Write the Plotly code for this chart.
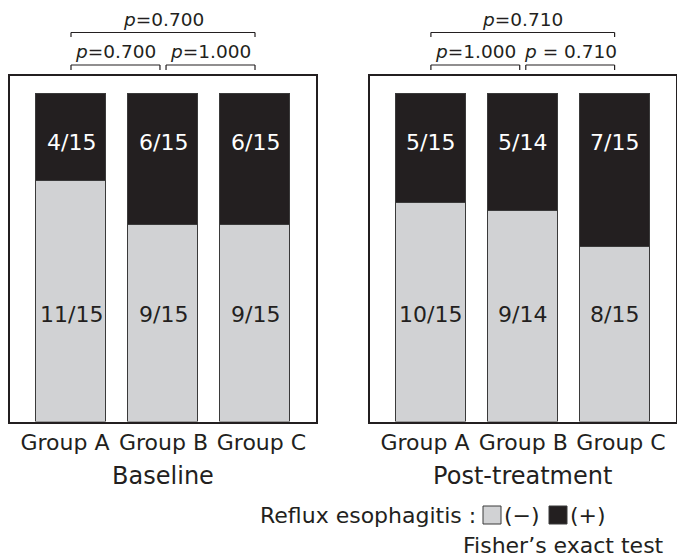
import plotly.graph_objects as go

# ---------------- data ----------------
groups = ["Group A", "Group B", "Group C"]
panel_titles = ["Baseline", "Post-treatment"]
series_names = ["(−)", "(+)"]
legend_title = "Reflux esophagitis :"
test_note = "Fisher’s exact test"

baseline_neg = [11, 9, 9]
baseline_pos = [4, 6, 6]
baseline_n = [15, 15, 15]

post_neg = [10, 9, 8]
post_pos = [5, 5, 7]
post_n = [15, 14, 15]

# p-value labels: [A vs B, B vs C, A vs C]
baseline_p = ["<i>p</i>=0.700", "<i>p</i>=1.000", "<i>p</i>=0.700"]
post_p = ["<i>p</i>=1.000", "<i>p</i> = 0.710", "<i>p</i>=0.710"]

# ---------------- style ----------------
OFF = 0
W, H = 677, 557
FONT = "DejaVu Sans"
INK = "#231f20"
GRAY = "#d1d2d4"
BLACK = "#231f20"
EDGE = "#3a3a3a"

XR = [-0.663, 2.663]
YR = [0, 1.055]
LABEL_SPREAD = [-0.065, 0.005, 0.07]   # slight spread of category labels


def fx(sx):   # screen x px -> paper
    return (sx - OFF) / W


def fy(sy):   # screen y px -> paper
    return 1 - (sy - OFF) / H


def xd(v):
    return (v - XR[0]) / (XR[1] - XR[0])


dom_left = [fx(10), fx(316)]
dom_right = [fx(370), fx(675.5)]
ydom = [fy(421.5), fy(75.5)]

fig = go.Figure()

panels = [
    ("x", "y", baseline_neg, baseline_pos, baseline_n, baseline_p),
    ("x2", "y2", post_neg, post_pos, post_n, post_p),
]

annotations = []
shapes = []

for k, (xa, ya, neg, pos, n, plabs) in enumerate(panels):
    neg_frac = [a / b for a, b in zip(neg, n)]
    pos_frac = [a / b for a, b in zip(pos, n)]
    fig.add_trace(go.Bar(
        x=[0, 1, 2], y=neg_frac, xaxis=xa, yaxis=ya, name=series_names[0],
        marker=dict(color=GRAY, line=dict(color=EDGE, width=1)),
        width=0.76, showlegend=False, hoverinfo="skip"))
    fig.add_trace(go.Bar(
        x=[0, 1, 2], y=pos_frac, xaxis=xa, yaxis=ya, name=series_names[1],
        marker=dict(color=BLACK, line=dict(color=EDGE, width=1)),
        width=0.76, showlegend=False, hoverinfo="skip"))

    for i in range(3):
        annotations.append(dict(
            x=i, y=0.852, xref=xa, yref=ya, text=f"{pos[i]}/{n[i]}",
            showarrow=False, font=dict(family=FONT, size=22, color="white")))
        annotations.append(dict(
            x=i, y=0.325, xref=xa, yref=ya, text=f"{neg[i]}/{n[i]}",
            showarrow=False, font=dict(family=FONT, size=22, color=INK)))

    xdr = xa + " domain"
    gap = 0.033
    brackets = [
        (0, 1 - gap, 65, 70, plabs[0]),
        (1 + gap, 2, 65, 70, plabs[1]),
        (0, 2, 32.5, 37, plabs[2]),
    ]
    for (a, b, yl, yt, lab) in brackets:
        line = dict(color=INK, width=1.2)
        shapes.append(dict(type="line", xref=xdr, yref="paper",
                           x0=xd(a), x1=xd(b), y0=fy(yl), y1=fy(yl), line=line))
        shapes.append(dict(type="line", xref=xdr, yref="paper",
                           x0=xd(a), x1=xd(a), y0=fy(yl), y1=fy(yt), line=line))
        shapes.append(dict(type="line", xref=xdr, yref="paper",
                           x0=xd(b), x1=xd(b), y0=fy(yl), y1=fy(yt), line=line))
        annotations.append(dict(
            x=xd((a + b) / 2), y=fy(yl - 13), xref=xdr, yref="paper",
            text=lab, showarrow=False, yanchor="middle", xanchor="center",
            font=dict(family=FONT, size=18.5, color=INK)))

# legend (manual)
LY = 515
LF = 22
annotations.append(dict(x=fx(258), y=fy(LY), xref="paper", yref="paper",
                        text=legend_title, showarrow=False, xanchor="left", yanchor="middle",
                        font=dict(family=FONT, size=LF, color=INK)))
sq = 18
for sx, col, name in [(483, GRAY, series_names[0]), (549, BLACK, series_names[1])]:
    shapes.append(dict(type="rect", xref="paper", yref="paper",
                       x0=fx(sx), x1=fx(sx + sq), y0=fy(LY + sq / 2), y1=fy(LY - sq / 2),
                       fillcolor=col, line=dict(color=EDGE, width=1)))
    annotations.append(dict(x=fx(sx + sq + 1), y=fy(LY), xref="paper", yref="paper",
                            text=name, showarrow=False, xanchor="left", yanchor="middle",
                            font=dict(family=FONT, size=LF, color=INK)))
annotations.append(dict(x=fx(666), y=fy(545), xref="paper", yref="paper",
                        text=test_note, showarrow=False, xanchor="right", yanchor="middle",
                        font=dict(family=FONT, size=LF, color=INK)))

axis_common = dict(showline=True, mirror=True, linecolor=INK, linewidth=1.5,
                   showgrid=False, zeroline=False, fixedrange=True)
tickvals = [i + s for i, s in enumerate(LABEL_SPREAD)]

fig.update_layout(
    width=W, height=H,
    margin=dict(l=0, r=0, t=0, b=0),
    paper_bgcolor="white", plot_bgcolor="white",
    barmode="stack", bargap=0,
    font=dict(family=FONT, color=INK),
    xaxis=dict(domain=dom_left, range=XR, tickmode="array", tickvals=tickvals,
               ticktext=groups, ticks="", tickfont=dict(size=22, color=INK),
               title=dict(text=panel_titles[0], font=dict(size=24, color=INK), standoff=14),
               anchor="y", **axis_common),
    yaxis=dict(domain=ydom, range=YR, showticklabels=False, ticks="", anchor="x",
               **axis_common),
    xaxis2=dict(domain=dom_right, range=XR, tickmode="array", tickvals=tickvals,
                ticktext=groups, ticks="", tickfont=dict(size=22, color=INK),
                title=dict(text=panel_titles[1], font=dict(size=24, color=INK), standoff=14),
                anchor="y2", **axis_common),
    yaxis2=dict(domain=ydom, range=YR, showticklabels=False, ticks="", anchor="x2",
                **axis_common),
    annotations=annotations,
    shapes=shapes,
    showlegend=False,
)

fig.write_html(
    "out.html",
    config={"displayModeBar": False},
    post_script="document.body.style.margin='0';document.body.style.overflow='hidden';",
)
